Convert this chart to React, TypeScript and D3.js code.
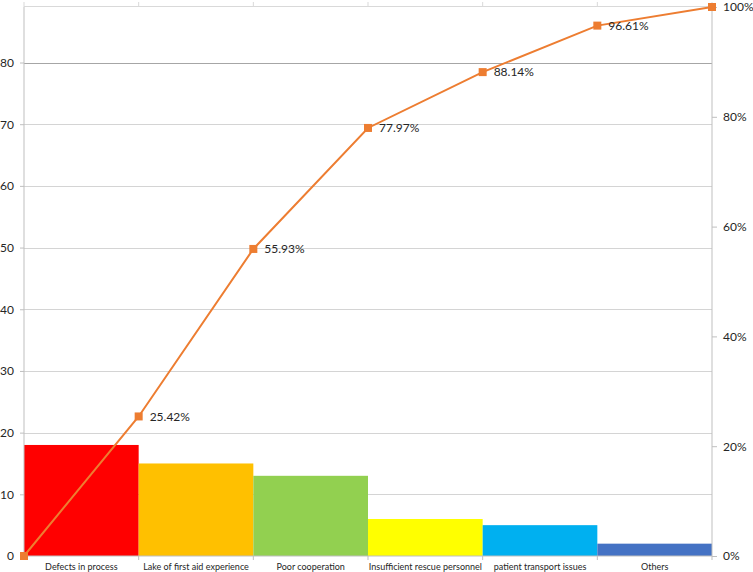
import React, { useEffect, useRef } from "react";
import * as d3 from "d3";

const categories = [
  "Defects in process",
  "Lake of first aid experience",
  "Poor cooperation",
  "Insufficient rescue personnel",
  "patient transport issues",
  "Others",
];
const counts = [18, 15, 13, 6, 5, 2];
const barColors = ["#FF0000", "#FFC000", "#92D050", "#FFFF00", "#00B0F0", "#4472C4"];
// cumulative percentages at the bar edges
const cumPercent = [0, 25.42, 55.93, 77.97, 88.14, 96.61, 100];
const leftTicks = [0, 10, 20, 30, 40, 50, 60, 70, 80];
const rightTicks = [0, 20, 40, 60, 80, 100];

const App = () => {
  const svgRef = useRef<SVGSVGElement>(null);

  useEffect(() => {
    const W = 753;
    const H = 572;
    const margin = { top: 7, right: 41, bottom: 16, left: 24 };
    const width = W - margin.left - margin.right;
    const height = H - margin.top - margin.bottom;
    const font = "Lato, 'Open Sans', sans-serif";

    const svg = d3.select(svgRef.current).attr("width", W).attr("height", H);
    svg.selectAll("*").remove();

    const g = svg
      .append("g")
      .attr("transform", `translate(${margin.left},${margin.top})`);

    const x = d3.scaleBand().domain(categories).range([0, width]).padding(0);
    const edge = d3.scaleLinear().domain([0, categories.length]).range([0, width]);
    const y = d3.scaleLinear().domain([0, 89]).range([height, 0]);
    const yr = d3.scaleLinear().domain([0, 100]).range([height, 0]);

    // gridlines
    g.selectAll(".grid")
      .data(leftTicks.slice(1))
      .enter()
      .append("line")
      .attr("x1", 0)
      .attr("x2", width)
      .attr("y1", (d) => Math.round(y(d)) + 0.5)
      .attr("y2", (d) => Math.round(y(d)) + 0.5)
      .attr("stroke", (d) => (d === 80 ? "#a6a6a6" : "#d4d4d4"))
      .attr("stroke-width", 1);

    // bars
    g.selectAll(".bar")
      .data(counts)
      .enter()
      .append("rect")
      .attr("x", (d, i) => x(categories[i]) as number)
      .attr("width", x.bandwidth())
      .attr("y", (d) => y(d))
      .attr("height", (d) => height - y(d))
      .attr("fill", (d, i) => barColors[i]);

    const axisColor = "#bfbfbf";

    // left axis
    const left = g.append("g").call(d3.axisLeft(y).tickValues(leftTicks).tickSize(4).tickPadding(6));
    left.select(".domain").attr("stroke", axisColor).attr("d", `M0,${height}V0`);
    left.selectAll(".tick line").attr("stroke", axisColor);
    left.selectAll("text").attr("font-family", font).attr("font-size", 12).attr("fill", "#262626");

    // right axis
    const right = g
      .append("g")
      .attr("transform", `translate(${width},0)`)
      .call(
        d3
          .axisRight(yr)
          .tickValues(rightTicks)
          .tickFormat((d) => `${d}%`)
          .tickSize(5)
          .tickPadding(6)
      );
    right.select(".domain").attr("stroke", axisColor).attr("d", `M0,${height}V0`);
    right.selectAll(".tick line").attr("stroke", axisColor);
    right.selectAll("text").attr("font-family", font).attr("font-size", 12).attr("fill", "#262626");

    // bottom axis
    const bottom = g
      .append("g")
      .attr("transform", `translate(0,${height})`)
      .call(d3.axisBottom(x).tickSize(0).tickPadding(8));
    bottom.select(".domain").attr("stroke", axisColor).attr("d", `M0,0H${width}`);
    bottom.selectAll("text").attr("font-family", font).attr("font-size", 9).attr("fill", "#262626");
    bottom
      .selectAll(".edge")
      .data(d3.range(categories.length + 1))
      .enter()
      .append("line")
      .attr("x1", (d) => edge(d))
      .attr("x2", (d) => edge(d))
      .attr("y1", 0)
      .attr("y2", 4)
      .attr("stroke", axisColor);

    // top (secondary category) axis
    g.append("line")
      .attr("x1", 0)
      .attr("x2", width)
      .attr("y1", -0.5)
      .attr("y2", -0.5)
      .attr("stroke", "#d9d9d9");
    g.selectAll(".topTick")
      .data(d3.range(categories.length + 1))
      .enter()
      .append("line")
      .attr("x1", (d) => edge(d))
      .attr("x2", (d) => edge(d))
      .attr("y1", 0)
      .attr("y2", -5)
      .attr("stroke", "#d9d9d9");

    // cumulative line
    const line = d3
      .line<number>()
      .x((d, i) => edge(i))
      .y((d) => yr(d));

    g.append("path")
      .datum(cumPercent)
      .attr("fill", "none")
      .attr("stroke", "#ED7D31")
      .attr("stroke-width", 2)
      .attr("d", line);

    g.selectAll(".marker")
      .data(cumPercent)
      .enter()
      .append("rect")
      .attr("x", (d, i) => edge(i) - 4)
      .attr("y", (d) => yr(d) - 4)
      .attr("width", 8)
      .attr("height", 8)
      .attr("fill", "#ED7D31");

    g.selectAll(".plabel")
      .data(cumPercent.slice(1, -1))
      .enter()
      .append("text")
      .attr("x", (d, i) => edge(i + 1) + 11)
      .attr("y", (d) => yr(d))
      .attr("dy", "0.35em")
      .attr("font-family", font)
      .attr("font-size", 12)
      .attr("fill", "#262626")
      .text((d) => `${d.toFixed(2)}%`);
  }, []);

  return (
    <div style={{ position: "absolute", left: 0, top: 0 }}>
      <svg ref={svgRef}></svg>
    </div>
  );
};

export default App;
